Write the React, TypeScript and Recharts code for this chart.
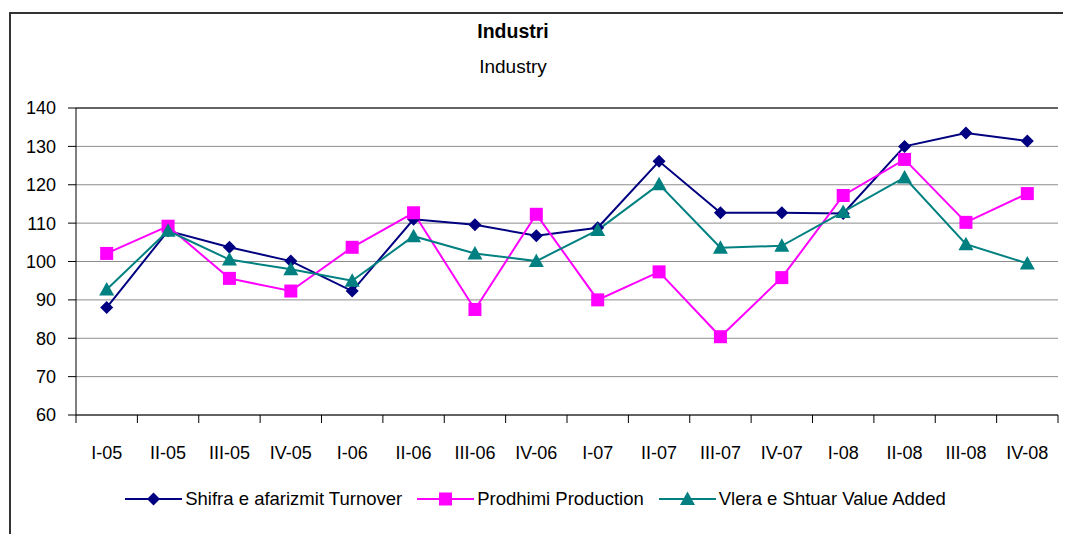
import React from 'react';
import { LineChart, Line, XAxis, YAxis, CartesianGrid, Legend, ReferenceLine } from 'recharts';

const quarters = ['I-05', 'II-05', 'III-05', 'IV-05', 'I-06', 'II-06', 'III-06', 'IV-06', 'I-07', 'II-07', 'III-07', 'IV-07', 'I-08', 'II-08', 'III-08', 'IV-08'];
const turnover = [88, 108, 103.7, 100.1, 92.3, 111, 109.6, 106.7, 108.8, 126.1, 112.7, 112.7, 112.5, 130, 133.5, 131.4];
const production = [102.1, 109.2, 95.6, 92.3, 103.7, 112.7, 87.5, 112.3, 90, 97.3, 80.4, 95.8, 117.2, 126.6, 110.2, 117.7];
const valueAdded = [92.7, 108, 100.5, 98, 95, 106.6, 102.1, 100.1, 108.2, 120.1, 103.6, 104.1, 112.9, 121.9, 104.5, 99.5];
const yTicks = [60, 70, 80, 90, 100, 110, 120, 130, 140];

const W = 1071;
const H = 542;
const FONT = '"Liberation Sans", Arial, sans-serif';

const NAVY = '#000080';
const MAGENTA = '#ff00ff';
const TEAL = '#008080';

const data = quarters.map((q, i) => ({
  q,
  turnover: turnover[i],
  production: production[i],
  valueAdded: valueAdded[i],
}));

type Shape = 'diamond' | 'square' | 'triangle';

function Marker({ cx, cy, shape, color }: { cx: number; cy: number; shape: Shape; color: string }) {
  if (cx == null || cy == null) return null;
  if (shape === 'diamond') {
    const r = 6.5;
    return <path d={`M${cx},${cy - r}L${cx + r},${cy}L${cx},${cy + r}L${cx - r},${cy}Z`} fill={color} />;
  }
  if (shape === 'square') {
    const s = 6.5;
    return <rect x={cx - s} y={cy - s} width={s * 2} height={s * 2} fill={color} />;
  }
  const w = 7.5;
  return <path d={`M${cx},${cy - 7.5}L${cx + w},${cy + 6}L${cx - w},${cy + 6}Z`} fill={color} />;
}

const makeDot = (shape: Shape, color: string) => (p: any) => (
  <Marker key={`${shape}-${p.index}`} cx={p.cx} cy={p.cy} shape={shape} color={color} />
);

// plot width / number of quarters, fallback if the tick payload has no offset
const HALF_BAND = (1058 - 76) / quarters.length / 2;

function QuarterTick(props: any) {
  const { x, y, payload, index } = props;
  const half = payload && payload.offset ? payload.offset : HALF_BAND;
  return (
    <g>
      <line x1={x - half} x2={x - half} y1={y} y2={y + 8} stroke="#000" strokeWidth={1} />
      {index === quarters.length - 1 && (
        <line x1={x + half} x2={x + half} y1={y} y2={y + 8} stroke="#000" strokeWidth={1} />
      )}
      <text x={x} y={y + 44} textAnchor="middle" fontSize={18} fontFamily={FONT} fill="#000">
        {payload.value}
      </text>
    </g>
  );
}

const legendItems: { label: string; color: string; shape: Shape }[] = [
  { label: 'Shifra e afarizmit Turnover', color: NAVY, shape: 'diamond' },
  { label: 'Prodhimi Production', color: MAGENTA, shape: 'square' },
  { label: 'Vlera e Shtuar Value Added', color: TEAL, shape: 'triangle' },
];

function LegendContent() {
  return (
    <div style={{ display: 'flex', justifyContent: 'center', alignItems: 'center', fontFamily: FONT, fontSize: 18.5 }}>
      {legendItems.map((it, i) => (
        <div key={it.label} style={{ display: 'flex', alignItems: 'center', marginRight: i < 2 ? 15 : 0 }}>
          <svg width={57} height={20} style={{ marginRight: 3 }}>
            <line x1={0} x2={57} y1={10} y2={10} stroke={it.color} strokeWidth={2} />
            <Marker cx={28.5} cy={10} shape={it.shape} color={it.color} />
          </svg>
          <span>{it.label}</span>
        </div>
      ))}
    </div>
  );
}

export default function App() {
  return (
    <div style={{ position: 'relative', width: W, height: H, margin: -8, background: '#fff', overflow: 'hidden' }}>
      <div style={{ position: 'absolute', left: 9, top: 12, width: W, height: H, borderLeft: '2px solid #333', borderTop: '2px solid #333' }} />
      <div style={{ position: 'absolute', left: 413, width: 200, top: 20, textAlign: 'center', fontFamily: FONT, fontSize: 19.5, fontWeight: 'bold' }}>
        Industri
      </div>
      <div style={{ position: 'absolute', left: 413, width: 200, top: 56, textAlign: 'center', fontFamily: FONT, fontSize: 19 }}>
        Industry
      </div>
      <LineChart width={W} height={H} data={data} margin={{ top: 108, right: 13, bottom: 97, left: 16 }}>
        <CartesianGrid vertical={false} stroke="#8c8c8c" />
        <XAxis
          dataKey="q"
          scale="band"
          height={30}
          tickLine={false}
          tickSize={0}
          tickMargin={0}
          interval={0}
          axisLine={{ stroke: '#000' }}
          tick={<QuarterTick />}
        />
        <YAxis
          yAxisId={0}
          domain={[60, 140]}
          ticks={yTicks}
          interval={0}
          width={60}
          tickSize={8}
          tickMargin={12}
          axisLine={{ stroke: '#000' }}
          tickLine={{ stroke: '#000' }}
          tick={{ fill: '#000', fontSize: 18, fontFamily: FONT }}
        />
        <YAxis yAxisId="right" orientation="right" width={0} tick={false} tickLine={false} axisLine={{ stroke: '#333', strokeWidth: 1.5 }} domain={[60, 140]} />
        <ReferenceLine yAxisId={0} y={140} stroke="#444" strokeWidth={1.5} />
        <Line
          yAxisId={0}
          dataKey="turnover"
          stroke={NAVY}
          strokeWidth={2}
          dot={makeDot('diamond', NAVY)}
          activeDot={false}
          isAnimationActive={false}
        />
        <Line
          yAxisId={0}
          dataKey="production"
          stroke={MAGENTA}
          strokeWidth={2}
          dot={makeDot('square', MAGENTA)}
          activeDot={false}
          isAnimationActive={false}
        />
        <Line
          yAxisId={0}
          dataKey="valueAdded"
          stroke={TEAL}
          strokeWidth={2}
          dot={makeDot('triangle', TEAL)}
          activeDot={false}
          isAnimationActive={false}
        />
        <Legend
          verticalAlign="middle"
          align="center"
          content={<LegendContent />}
          wrapperStyle={{ top: 488, left: 0, width: W }}
        />
      </LineChart>
    </div>
  );
}
